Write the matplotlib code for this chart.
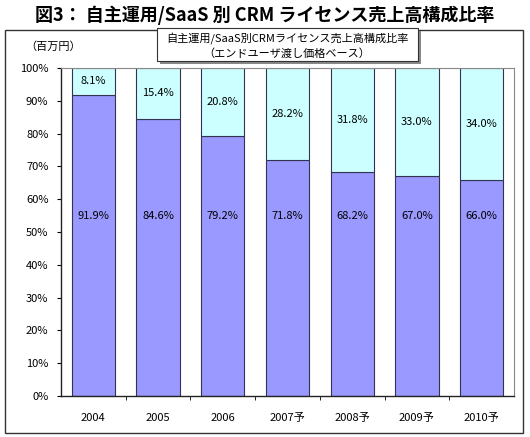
import matplotlib
matplotlib.use("Agg")
import matplotlib.pyplot as plt
from matplotlib.patches import Rectangle
import numpy as np

plt.rcParams['font.family'] = ['Noto Sans CJK JP', 'DejaVu Sans']

# data
years = ["2004", "2005", "2006", "2007予", "2008予", "2009予", "2010予"]
self_run = [91.9, 84.6, 79.2, 71.8, 68.2, 67.0, 66.0]
saas = [8.1, 15.4, 20.8, 28.2, 31.8, 33.0, 34.0]

fig = plt.figure(figsize=(5.30, 4.37), dpi=100)
W, H = 530, 437

# outer chart frame
fig.patches.append(Rectangle((5 / W, 1 - 433 / H), 518 / W, 403 / H,
                             transform=fig.transFigure, fill=False,
                             edgecolor="#333333", linewidth=1.0))

fig.text(0.5, 1 - 15 / H, "図3： 自主運用/SaaS 別 CRM ライセンス売上高構成比率",
         ha="center", va="center", fontsize=13, fontweight="bold")

ax = fig.add_axes([61 / W, 1 - 396 / H, 453 / W, 328 / H])
x = np.arange(len(years))
bw = 0.67
ax.bar(x, self_run, bw, color="#9999FF", edgecolor="#333355", linewidth=0.8)
ax.bar(x, saas, bw, bottom=self_run, color="#CCFFFF", edgecolor="#333355", linewidth=0.8)

for i in range(len(years)):
    ax.text(x[i], 55, f"{self_run[i]:.1f}%", ha="center", va="center", fontsize=8)
    ax.text(x[i], self_run[i] + saas[i] / 2, f"{saas[i]:.1f}%", ha="center", va="center", fontsize=8)

ax.set_xlim(-0.5, len(years) - 0.5)
ax.set_ylim(0, 100)
ax.set_yticks(np.arange(0, 101, 10))
ax.set_yticklabels([f"{v}%" for v in range(0, 101, 10)], fontsize=8)
ax.set_xticks(x)
ax.set_xticklabels(years, fontsize=8)
ax.set_xticks(np.arange(0.5, len(years) - 1, 1), minor=True)
ax.tick_params(axis="x", which="major", length=0, pad=12)
ax.tick_params(axis="x", which="minor", length=3, direction="out")
ax.tick_params(axis="y", length=3, direction="out", pad=6)

for s in ["top", "right"]:
    ax.spines[s].set_color("#888888")
    ax.spines[s].set_linewidth(0.8)
for s in ["left", "bottom"]:
    ax.spines[s].set_color("#222222")
    ax.spines[s].set_linewidth(1.0)

fig.text(25 / W, 1 - 47 / H, "（百万円）", ha="left", va="center", fontsize=8)

# title box with shadow
fig.patches.append(Rectangle((160 / W, 1 - 64 / H), 261 / W, 33 / H,
                             transform=fig.transFigure, facecolor="#888888",
                             edgecolor="none", zorder=5))
fig.patches.append(Rectangle((157 / W, 1 - 61 / H), 261 / W, 33 / H,
                             transform=fig.transFigure, facecolor="white",
                             edgecolor="#333333", linewidth=0.8, zorder=6))
fig.text(287 / W, 1 - 38 / H, "自主運用/SaaS別CRMライセンス売上高構成比率",
         ha="center", va="center", fontsize=8, zorder=7)
fig.text(287 / W, 1 - 53 / H, "（エンドユーザ渡し価格ベース）",
         ha="center", va="center", fontsize=8, zorder=7)

fig.savefig("out.png", dpi=100)
